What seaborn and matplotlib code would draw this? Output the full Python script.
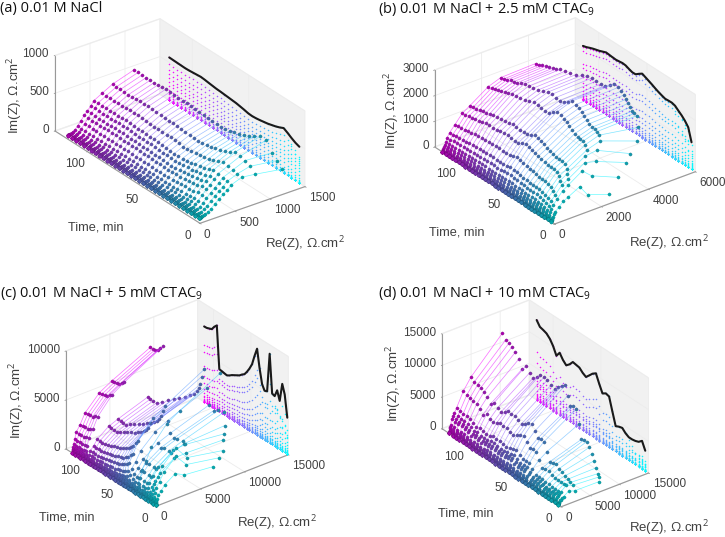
"""
Four 3D Nyquist-vs-time panels. Each time step is one arc through the frequency rows.
"""

import matplotlib.pyplot as plt
import numpy as np
import seaborn as sns
from mpl_toolkits.mplot3d import proj3d

W, H = 725, 537

# --times of the arcs, minutes
time_a = [5, 8.5, 12, 15.5, 19, 22.5, 26, 29.5, 33, 36.5, 40, 43.5, 47, 50.5, 54, 57.5, 61, 64.5, 68, 71.5,
          75, 78.5, 82, 85.5, 89, 92.5, 96, 99.5, 103, 106.5, 110, 113.5, 117, 120.5]
time_b = [4, 7.4, 10.8, 14.2, 17.6, 21, 24.4, 27.8, 31.2, 34.6, 38, 41.4, 44.8, 48.2, 51.6, 55, 58.4, 61.8, 65.2,
          68.6, 72, 75.4, 78.8, 82.2, 85.6, 89, 92.4, 95.8, 99.2, 102.6, 106, 109.4, 112.8, 116.2]
time_c = [1.5, 4.9, 8.2, 11.6, 15, 18.3, 21.7, 25, 28.4, 31.8, 35.1, 38.5, 41.8, 45.2, 48.5, 51.9, 55.3, 58.6, 62,
          65.3, 68.7, 72, 75.4, 78.7, 82.1, 85.5, 88.8, 92.2, 95.5, 98.9, 102.2, 105.6, 109, 112.4]
time_d = [3.5, 6.9, 10.4, 13.8, 17.3, 20.7, 24.2, 27.6, 31.1, 34.5, 38, 41.4, 44.9, 48.3, 51.8, 55.2, 58.7, 62.1,
          65.6, 69, 72.5, 75.9, 79.4, 82.8, 86.3, 89.7, 93.2, 96.6, 100.1, 103.5, 107, 110.4, 113.9, 117.3]

# --black line on the back wall, largest Im(Z) at each time
peak_a = [480, 500, 530, 565, 595, 570, 550, 535, 520, 510, 500, 492, 488, 492, 505, 515, 525, 530, 535, 540,
          545, 548, 555, 562, 570, 575, 570, 565, 560, 558, 560, 562, 564, 566]
peak_b = [1050, 1550, 1720, 1850, 1950, 2060, 2100, 2095, 2085, 2130, 2180, 2240, 2310, 2370, 2430, 2490, 2400,
          2300, 2295, 2340, 2395, 2410, 2390, 2375, 2385, 2400, 2412, 2360, 2308, 2270, 2230, 2180, 2125, 2090]
peak_c = [3706, 5900, 6834, 4930, 5848, 5100, 5200, 9100, 5100, 5000, 5508, 7000, 8806, 7900, 6900, 6300, 5800,
          5400, 5200, 4950, 4800, 4650, 4500, 4300, 4150, 4200, 4250, 4300, 8600, 8300, 7900, 7800, 7700, 7684]
peak_d = [3172, 4394, 3900, 3700, 3600, 3600, 3900, 4400, 4250, 4000, 6000, 8000, 8150, 7800, 9000, 10300, 9900,
          9300, 8700, 9000, 9500, 9600, 9700, 9000, 8500, 9000, 9800, 9000, 10200, 11000, 11500, 11700, 11850, 12600]

# --Re(Z) of the top row at each time
top_re_a = [1245, 1230, 1215, 1190, 1165, 1140, 1120, 1105, 1090, 1080, 1070, 1060, 1055, 1050, 1045, 1040, 1035,
            1030, 1025, 1020, 1018, 1015, 1012, 1010, 1008, 1006, 1005, 1004, 1003, 1002, 1001, 1000, 1000, 1000]
top_re_b = [2500, 3000, 3500, 3800, 4250, 4420, 4500, 4550, 4600, 4650, 4700, 4750, 4800, 4830, 4840, 4800, 4750,
            4700, 4650, 4600, 4550, 4500, 4400, 4300, 4200, 4100, 4050, 4020, 4000, 3990, 3985, 3980, 3980, 3980]
top_re_c = [6500, 7500, 8238, 8500, 9000, 9300, 9500, 9400, 9400, 9200, 9000, 9000, 9000, 9000, 9100, 9300, 9300,
            9300, 9100, 8800, 8400, 8100, 7700, 7300, 7000, 6870, 6870, 6870, 8850, 8850, 8850, 8850, 8850, 8850]
top_re_d = [7000, 7600, 8020, 8300, 8500, 8700, 8800, 8900, 9000, 9100, 9200, 9300, 9400, 9500, 9600, 9680, 9700,
            9650, 9600, 9550, 9500, 9450, 9400, 9350, 9300, 9250, 9200, 9150, 9100, 9100, 9100, 9100, 9100, 9100]

# --one arc, top row first, read at the far end of each panel
arc_re_a = [1000, 690, 545, 425, 380, 330, 285, 235, 190, 155, 125, 105, 92, 85, 78, 72, 68, 65, 62, 60,
            58, 57, 56, 55, 54, 53, 52, 51]
arc_im_a = [560, 470, 400, 340, 285, 235, 190, 131, 80, 47, 25, 18, 13, 10, 8, 6, 4.5, 3.5, 2.5, 2,
            1.8, 1.5, 1.2, 1, .8, .6, .4, .2]
arc_re_b = [3980, 2490, 1960, 1170, 850, 540, 310, 210, 140, 100, 70, 50, 35, 28, 22, 18, 14, 11, 9, 7,
            6, 5, 4.5, 4, 3.5, 3, 2.5, 2]
arc_im_b = [2177, 2130, 1950, 1450, 1260, 910, 665, 500, 330, 230, 156, 100, 65, 40, 28, 20, 14, 10, 6, 3,
            2.5, 2, 1.7, 1.4, 1.1, .8, .5, .2]
arc_re_c = [8846, 4480, 3075, 1443, 873, 420, 250, 130, 95, 75, 60, 48, 38, 30, 24, 18, 14, 10, 7, 4,
            3, 2.5, 2, 1.5]
arc_im_c = [7616, 5746, 5046, 3570, 2584, 1938, 1292, 836, 600, 430, 300, 210, 150, 100, 70, 50, 35, 20, 10, 5,
            3, 2, 1, .5]
arc_re_d = [9100, 3720, 2405, 1260, 860, 600, 400, 230, 150, 100, 70, 50, 36, 26, 18, 13, 9, 6, 4, 2,
            1.5, 1, .8, .5]
arc_im_d = [12667, 7644, 5876, 3666, 2912, 2500, 2184, 1326, 1000, 760, 560, 420, 320, 240, 170, 120, 80, 50, 25, 10,
            6, 4, 2, 1]

# --how far the two top rows fall off the arc at the earliest times
droop_a = [[.55, .7, .8, 1, 1, 1], [.8, .95, 1, 1, 1, 1]]
droop_b = [[.2, .4, .55, .6, .7, .85], [.5, .7, .85, .95, 1, 1]]
droop_c = [[.45, .35, .35, .65, .6, .8], [.7, .6, .6, .9, .9, 1]]
droop_d = [[.35, .3, .35, .5, .7, .9], [.6, .6, .7, .8, .9, 1]]

titles = ["(a) 0.01 M NaCl", "(b) 0.01 M NaCl + 2.5 mM CTAC$_9$",
          "(c) 0.01 M NaCl + 5 mM CTAC$_9$", "(d) 0.01 M NaCl + 10 mM CTAC$_9$"]
time_ticks = [0, 50, 100]

sns.set_theme(style="white", rc={"grid.color": "#ececec", "grid.linewidth": 0.6,
                                 "mathtext.fontset": "custom", "mathtext.rm": "Open Sans"})
plt.rcParams["font.family"] = ["Liberation Sans", "DejaVu Sans"]


def screen(ax, x, y, z):
    xs, ys, _ = proj3d.proj_transform(x, y, z, ax.get_proj())
    return ax.transData.transform((xs, ys))


def fit_panel(fig, ax, origin, t_vec, re_vec, z_len):
    """
    Chooses view and box so the axes corners land on the wanted pixels.
    """
    tx, ty = t_vec
    rx, ry = re_vec
    sin_el = np.sqrt(ry * ty / (rx * tx))
    az = np.arctan2(rx * sin_el, ry)
    s, c = np.sin(az), np.cos(az)
    ax.view_init(np.degrees(np.arcsin(sin_el)), 180 + np.degrees(az))
    ax.set_proj_type("ortho")
    aspect = (rx / s, tx / c, z_len / np.sqrt(1 - sin_el**2))
    ax.set_box_aspect(aspect)

    fig.canvas.draw()
    span = screen(ax, ax.get_xlim()[1], 0, 0) - screen(ax, 0, 0, 0)
    ax.set_box_aspect(aspect, zoom=rx / span[0])
    fig.canvas.draw()
    delta = np.array([origin[0], H - origin[1]]) - screen(ax, 0, 0, 0)
    pos = ax.get_position(original=True)
    ax.set_position([pos.x0 + delta[0] / W, pos.y0 + delta[1] / H, pos.width, pos.height])
    fig.canvas.draw()


def draw_panel(ax, time, peak, top_re, arc_re, arc_im, droop):
    """
    Arcs, their markers, and the wall projection.
    """
    time, peak, top_re = np.array(time), np.array(peak), np.array(top_re)
    arc_re, arc_im = np.array(arc_re), np.array(arc_im)
    re = np.outer(top_re / arc_re[0], arc_re)
    im = np.outer(peak / arc_im[0], arc_im)
    for row, factors in enumerate(droop):
        im[:len(factors), row] *= factors

    wall = ax.get_xlim()[1]
    colors = sns.color_palette("cool", len(time))
    for i in range(len(time) - 1, -1, -1):
        color = np.array(colors[i])
        ts = np.full(len(arc_re), time[i])
        ax.plot(np.full(len(arc_re), wall), ts, im[i], ls="", marker="o", ms=1.1, mew=0, mfc=color)
        ax.plot(re[i], ts, im[i], lw=0.5, color=color, alpha=0.6)
        ax.plot(re[i], ts, im[i], ls="", marker="o", ms=2.3, mew=0.2, mec=color * 0.5, mfc=color * 0.68)
    ax.plot(np.full(len(time), wall), time, peak, color="#1a1a1a", lw=1.5)


def style_panel(ax, xmax, tmax, zmax, xticks, zticks):
    ax.set_xlim(0, xmax, view_margin=0)
    ax.set_ylim(0, tmax, view_margin=0)
    ax.set_zlim(0, zmax, view_margin=0)
    ax.set_xticks(xticks, labels=[])
    ax.set_yticks(time_ticks, labels=[])
    ax.set_zticks(zticks, labels=[])
    ax.set_facecolor("none")
    ax.grid(True)
    ax.xaxis.set_pane_color("#f1f1f1")
    ax.yaxis.set_pane_color("#ffffff")
    ax.zaxis.set_pane_color("#ffffff")
    for axis in (ax.xaxis, ax.yaxis, ax.zaxis):
        axis.pane.set_edgecolor("#f1f1f1")
        axis.line.set_color("#999999")
        axis.line.set_linewidth(0.8)
        axis._axinfo["tick"]["inward_factor"] = 0.1
        axis._axinfo["tick"]["outward_factor"] = 0.0
        axis._axinfo["tick"]["linewidth"] = {True: 0.6, False: 0.4}
    ax.tick_params(color="#999999")
    ax.zaxis.set_ticks_position("upper")


def tick_texts(fig, ax, xticks, zticks):
    """
    Tick labels sit at a fixed pixel offset from the projected tick.
    """
    tmax = ax.get_ylim()[1]

    def put(point, dx, dy, value, ha):
        px = screen(ax, *point)
        fig.text((px[0] + dx) / W, (px[1] - dy) / H, str(value), ha=ha, va="center", fontsize=8.5, color="#404040")

    for value in xticks:
        put((value, 0, 0), 4, 11.5, value, "left")
    for value in time_ticks:
        put((0, value, 0), -12, 12.5, value, "center")
    for value in zticks:
        put((0, tmax, value), -6, -1.2, value, "right")


def label(fig, x, y, text, size, **kwargs):
    fig.text(x / W, 1 - y / H, text, ha="center", va="center", color="#404040", fontsize=size, **kwargs)


fig = plt.figure(figsize=(W / 100, H / 100), dpi=100)

panels = [
    (time_a, peak_a, top_re_a, arc_re_a, arc_im_a, droop_a, 1500, 128.7, 1000, [0, 500, 1000, 1500], [0, 500, 1000],
     (200, 223.3), (145, 92.3), (105, 36.7), 75.5),
    (time_b, peak_b, top_re_b, arc_re_b, arc_im_b, droop_b, 6000, 124, 3000, [0, 2000, 4000, 6000],
     [0, 1000, 2000, 3000], (554.7, 224), (120, 77), (140.7, 52.3), 77),
    (time_c, peak_c, top_re_c, arc_re_c, arc_im_c, droop_c, 15000, 121, 10000, [0, 5000, 10000, 15000],
     [0, 5000, 10000], (156.7, 506), (90.7, 57), (131.7, 51.3), 98),
    (time_d, peak_d, top_re_d, arc_re_d, arc_im_d, droop_d, 15000, 125, 15000, [0, 5000, 10000, 15000],
     [0, 5000, 10000, 15000], (561.3, 506.7), (119.3, 78), (87.3, 33.7), 95),
]

for (time, peak, top_re, arc_re, arc_im, droop, xmax, tmax, zmax, xticks, zticks,
     origin, t_vec, re_vec, z_len) in panels:
    ax = fig.add_axes([0.2, 0.2, 0.5, 0.5 * W / H], projection="3d")
    style_panel(ax, xmax, tmax, zmax, xticks, zticks)
    fit_panel(fig, ax, origin, t_vec, re_vec, z_len)
    tick_texts(fig, ax, xticks, zticks)
    draw_panel(ax, time, peak, top_re, arc_re, arc_im, droop)

re_label = "Re(Z), $\\Omega$.cm$^2$"
im_label = "Im(Z), $\\Omega$.cm$^2$"
for x, y in [(305, 244), (669, 243), (277, 523), (669, 528)]:
    label(fig, x, y, re_label, 9.5)
for x, y in [(96, 228), (457, 233), (67, 518), (466, 514)]:
    label(fig, x, y, "Time, min", 9.2)
for x, y in [(15, 95), (392, 110), (17, 400), (394, 383)]:
    label(fig, x, y, im_label, 9.5, rotation=90)

for (x, y), title in zip([(0, 8.5), (378, 8.5), (0, 293), (378, 293)], titles):
    fig.text(x / W, 1 - y / H, title, ha="left", va="center", fontsize=10.5, color="#111111", family="Open Sans")

fig.savefig("out.png", dpi=100)
